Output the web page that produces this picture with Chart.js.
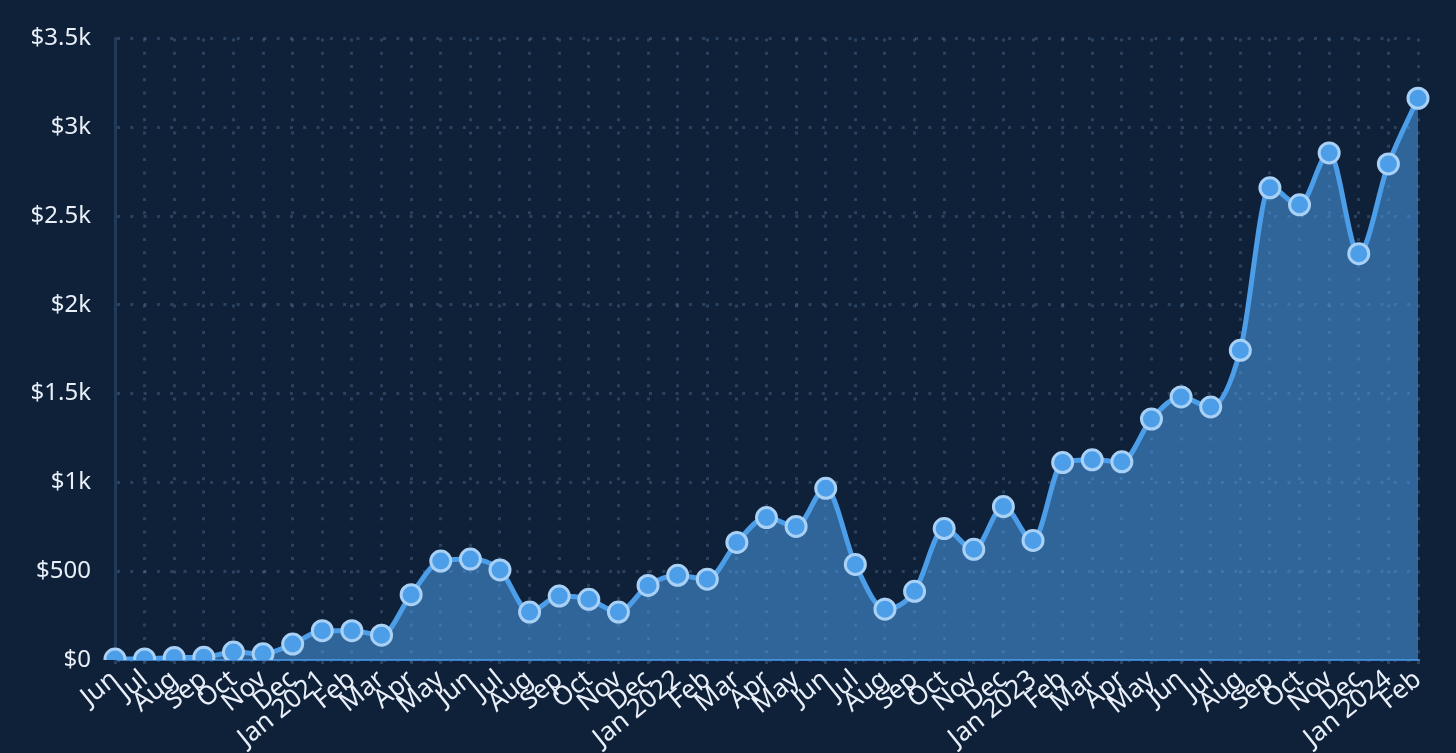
<!DOCTYPE html>
<html>
<head>
<meta charset="utf-8">
<script src="https://cdn.jsdelivr.net/npm/chart.js@4/dist/chart.umd.min.js"></script>
<style>
    html, body { margin: 0; padding: 0; background: #0f2039; }
    #wrap { width: 1456px; height: 753px; position: relative; }
</style>
</head>
<body>
<div id="wrap"><canvas id="revenueChart"></canvas></div>
<script>
// Monthly revenue, Jun 2020 - Feb 2024
const months = [
    'Jun', 'Jul', 'Aug', 'Sep', 'Oct', 'Nov', 'Dec',
    'Jan 2021', 'Feb', 'Mar', 'Apr', 'May', 'Jun', 'Jul', 'Aug', 'Sep', 'Oct', 'Nov', 'Dec',
    'Jan 2022', 'Feb', 'Mar', 'Apr', 'May', 'Jun', 'Jul', 'Aug', 'Sep', 'Oct', 'Nov', 'Dec',
    'Jan 2023', 'Feb', 'Mar', 'Apr', 'May', 'Jun', 'Jul', 'Aug', 'Sep', 'Oct', 'Nov', 'Dec',
    'Jan 2024', 'Feb'
];

const revenue = [
    5, 6, 14, 15, 45, 35, 90,
    165, 165, 140, 368, 557, 568, 507, 270, 360, 342, 270, 420,
    477, 455, 662, 802, 752, 967, 538, 286, 387, 740, 623, 864,
    673, 1112, 1127, 1116, 1357, 1481, 1425, 1744, 2659, 2563, 2855, 2288,
    2793, 3163
];

const yTickLabels = ['$0', '$500', '$1k', '$1.5k', '$2k', '$2.5k', '$3k', '$3.5k'];

const FONT = '"Noto Sans", "Open Sans", sans-serif';
const GRID_COLOR = 'rgba(110, 145, 185, 0.3)';
const DOTS = [3, 10.3];

document.addEventListener('DOMContentLoaded', () => {
    const ctx = document.getElementById('revenueChart');

    new Chart(ctx, {
        type: 'line',
        data: {
            labels: months,
            datasets: [{
                data: revenue,
                borderColor: '#4d9ee9',
                borderWidth: 5,
                backgroundColor: 'rgba(77, 158, 233, 0.55)',
                fill: 'origin',
                cubicInterpolationMode: 'monotone',
                pointRadius: 10,
                pointBorderWidth: 3,
                pointBackgroundColor: '#4d9ee9',
                pointBorderColor: '#a9d0f5'
            }]
        },
        options: {
            responsive: true,
            maintainAspectRatio: false,
            animation: false,
            layout: {
                padding: { top: 34, right: 38, left: 0, bottom: 0 }
            },
            plugins: {
                legend: { display: false },
                tooltip: { enabled: false }
            },
            scales: {
                x: {
                    offset: false,
                    afterFit: (scale) => { scale.height = 93; },
                    grid: {
                        color: GRID_COLOR,
                        lineWidth: 3,
                        tickLength: 13,
                        tickColor: GRID_COLOR,
                        tickWidth: 3,
                        tickBorderDash: DOTS
                    },
                    border: { display: true, color: '#3b7fc8', width: 2, dash: DOTS },
                    ticks: {
                        autoSkip: false,
                        minRotation: 39,
                        maxRotation: 39,
                        padding: -9,
                        color: '#e8eff8',
                        font: { family: FONT, size: 26 }
                    }
                },
                y: {
                    min: 0,
                    max: 3500,
                    afterFit: (scale) => { scale.width = 115; },
                    border: { display: true, color: '#22395a', width: 3, dash: DOTS },
                    grid: {
                        color: GRID_COLOR,
                        lineWidth: 3,
                        drawTicks: false
                    },
                    ticks: {
                        stepSize: 500,
                        padding: 24,
                        color: '#e8eff8',
                        font: { family: FONT, size: 24 },
                        callback: (value, index) => yTickLabels[index]
                    }
                }
            }
        }
    });
});
</script>
</body>
</html>
